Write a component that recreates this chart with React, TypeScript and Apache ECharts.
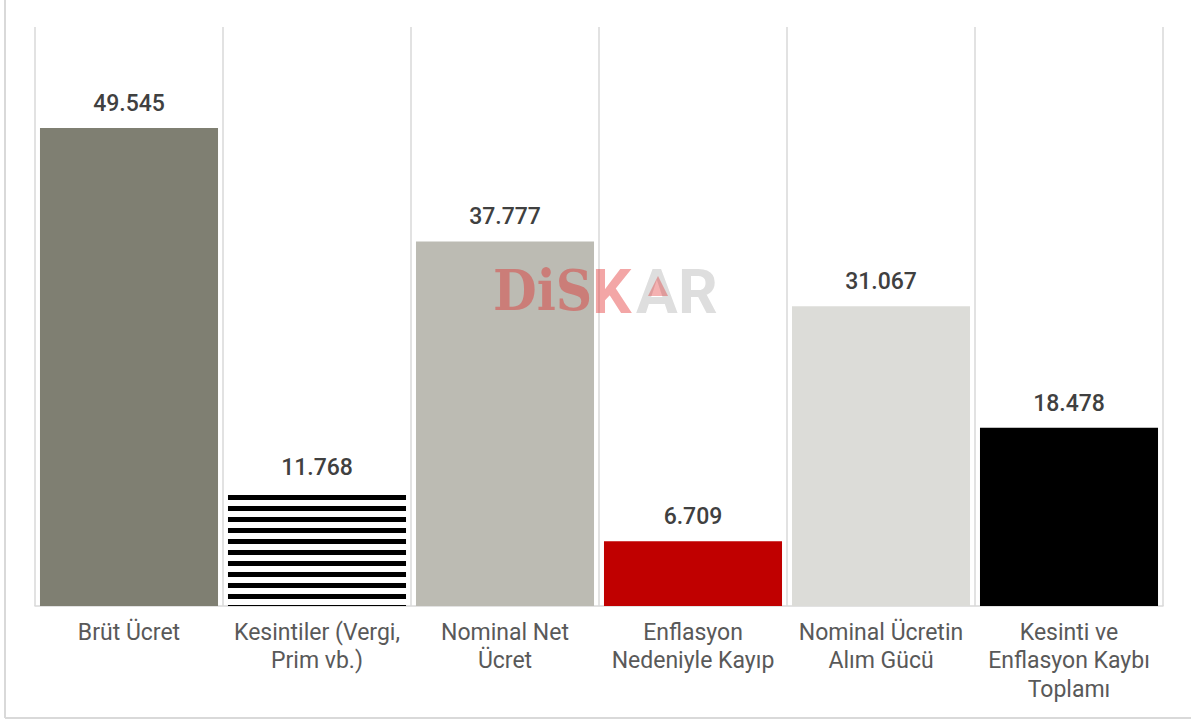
import React, { useEffect, useRef } from 'react';
import * as echarts from 'echarts';

const categories = [
  'Brüt Ücret',
  'Kesintiler (Vergi,\nPrim vb.)',
  'Nominal Net\nÜcret',
  'Enflasyon\nNedeniyle Kayıp',
  'Nominal Ücretin\nAlım Gücü',
  'Kesinti ve\nEnflasyon Kaybı\nToplamı',
];
const values = [49545, 11768, 37777, 6709, 31067, 18478];
const barColors = ['#7f7f72', '#ffffff', '#bcbbb3', '#c00000', '#dcdcd8', '#000000'];
const stripedIndex = 1;

const fmt = (v: number) => String(v).replace(/\B(?=(\d{3})+(?!\d))/g, '.');

export default function App() {
  const ref = useRef<HTMLDivElement>(null);
  useEffect(() => {
    document.body.style.margin = '0';
    const chart = echarts.init(ref.current!, undefined, { renderer: 'svg' });
    const red = 'rgba(224,32,32,0.40)';
    chart.setOption({
      animation: false,
      backgroundColor: '#ffffff',
      grid: { left: 35, right: 28, top: 27, bottom: 114, containLabel: false },
      xAxis: {
        type: 'category',
        data: categories,
        axisLine: { show: true, lineStyle: { color: '#d9d9d9', width: 1.5 } },
        axisTick: { show: false },
        splitLine: { show: true, interval: 0, lineStyle: { color: '#d9d9d9', width: 1.5 } },
        axisLabel: {
          interval: 0,
          margin: 12,
          color: '#595959',
          fontFamily: 'Roboto',
          fontSize: 23,
          lineHeight: 28.5,
        },
      },
      yAxis: {
        type: 'value',
        min: 0,
        max: 60000,
        show: false,
        splitLine: { show: false },
      },
      series: [
        {
          type: 'bar',
          barCategoryGap: '5.3%',
          data: values.map((v, i) => ({
            value: v,
            itemStyle:
              i === stripedIndex
                ? {
                    color: '#ffffff',
                    decal: {
                      symbol: 'rect',
                      symbolSize: 1,
                      color: '#000000',
                      backgroundColor: '#ffffff',
                      dashArrayX: [1, 0],
                      dashArrayY: [5, 6],
                      rotation: 0,
                    },
                  }
                : { color: barColors[i] },
          })),
          label: {
            show: true,
            position: 'top',
            distance: 13,
            color: '#404040',
            fontFamily: 'Roboto',
            fontWeight: 500,
            fontSize: 23,
            formatter: (p: any) => fmt(p.value),
          },
        },
      ],
      graphic: [
        {
          type: 'line',
          shape: { x1: 5, y1: 0, x2: 5, y2: 718 },
          style: { stroke: '#d9d9d9', lineWidth: 2 },
        },
        {
          type: 'line',
          shape: { x1: 5, y1: 718, x2: 1191, y2: 718 },
          style: { stroke: '#d9d9d9', lineWidth: 2 },
        },
        {
          type: 'text',
          z: 100,
          x: 493,
          y: 291,
          scaleX: 0.9,
          style: {
            text: 'DiS',
            fill: red,
            font: 'bold 56px "DejaVu Serif"',
            textVerticalAlign: 'middle',
          },
        },
        {
          type: 'text',
          z: 100,
          x: 592,
          y: 291,
          style: {
            text: 'K',
            fill: red,
            font: 'bold 62px Roboto',
            textVerticalAlign: 'middle',
          },
        },
        {
          type: 'text',
          z: 100,
          x: 636,
          y: 291,
          style: {
            text: 'A',
            fill: '#dedede',
            font: 'bold 62px Roboto',
            textVerticalAlign: 'middle',
          },
        },
        {
          type: 'polygon',
          z: 101,
          shape: { points: [[658, 276], [668, 296], [648, 296]] },
          style: { fill: 'rgba(224,32,32,0.35)' },
        },
        {
          type: 'text',
          z: 100,
          x: 678,
          y: 291,
          style: {
            text: 'R',
            fill: '#dedede',
            font: 'bold 62px Roboto',
            textVerticalAlign: 'middle',
          },
        },
      ],
    });
    return () => chart.dispose();
  }, []);
  return <div ref={ref} style={{ width: 1191, height: 720 }} />;
}
